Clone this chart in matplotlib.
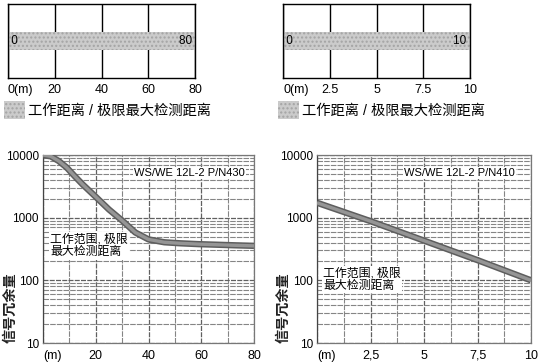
import matplotlib
matplotlib.use('Agg')
import matplotlib.pyplot as plt
from matplotlib.ticker import LogLocator, NullFormatter

plt.rcParams['font.family'] = ['Liberation Sans', 'Noto Sans CJK SC', 'DejaVu Sans']

# datos de los graficos
rango_izq = [0, 80]
ticks_izq = [0, 20, 40, 60, 80]
etiq_barra_izq = ['0(m)', '20', '40', '60', '80']
etiq_curva_izq = ['(m)', '20', '40', '60', '80']
menores_izq = [10, 30, 50, 70]

rango_der = [0, 10]
ticks_der = [0, 2.5, 5, 7.5, 10]
etiq_barra_der = ['0(m)', '2.5', '5', '7.5', '10']
etiq_curva_der = ['(m)', '2,5', '5', '7,5', '10']
menores_der = [1.25, 3.75, 6.25, 8.75]

# curva N430 (distancia m, margen de senal)
x_n430 = [0, 3, 6, 9, 12, 15, 20, 25, 30, 35, 40, 46, 52, 59, 66, 73, 80]
y_n430 = [10000, 9500, 8000, 6300, 4600, 3400, 2150, 1350, 900, 580, 450, 405, 390, 378, 370, 362, 355]

# curva N410
x_n410 = [0, 2.5, 5, 7.5, 10]
y_n410 = [1730, 880, 430, 210, 100]

y_ticks = [10, 100, 1000, 10000]
y_etiq = ['10', '100', '1000', '10000']

leyenda = '工作距离 / 极限最大检测距离'
nota = '工作范围, 极限\n最大检测距离'
modelo_izq = 'WS/WE 12L-2 P/N430'
modelo_der = 'WS/WE 12L-2 P/N410'
ylabel = '信号冗余量'

fig = plt.figure(figsize=(5.41, 3.63), dpi=100)
W, H = 541, 363


def caja(x0, y0, x1, y1):
    return [x0 / W, 1 - y1 / H, (x1 - x0) / W, (y1 - y0) / H]


def barra(ax, rango, ticks, etiquetas, ley_x):
    ax.barh(0.5, rango[1] - rango[0], left=rango[0], height=0.23,
            color='#cbcbcb', hatch='....', edgecolor='#a4a4a4', lw=0,
            label=leyenda)
    ax.set_xlim(rango)
    ax.set_ylim(0, 1)
    ax.set_yticks([])
    ax.set_xticks(ticks)
    ax.set_xticklabels(etiquetas, fontsize=9)
    ax.get_xticklabels()[0].set_ha('left')
    ax.tick_params(axis='x', length=0, pad=4)
    ax.grid(axis='x', color='black', lw=1)
    ax.set_axisbelow(True)
    for s in ax.spines.values():
        s.set_color('black')
        s.set_linewidth(1)
    ax.text(rango[0], 0.5, ' ' + str(rango[0]), va='center', ha='left', fontsize=8.5)
    ax.text(rango[1], 0.5, str(rango[1]) + ' ', va='center', ha='right', fontsize=8.5)
    ax.legend(loc='center left', bbox_to_anchor=(ley_x / W, 1 - 110 / H),
              bbox_transform=fig.transFigure, frameon=False, fontsize=10.3,
              handlelength=1.5, handleheight=1.5, borderpad=0, borderaxespad=0,
              handletextpad=0.15)


def curva(ax, x, y, rango, ticks, etiquetas, menores, modelo, mod_x, nota_xy, ylab_x):
    ax.plot(x, y, color='#5e5e5e', lw=4.6, solid_capstyle='butt', zorder=3)
    ax.plot(x, y, color='#959595', lw=2.4, solid_capstyle='butt', zorder=4)
    ax.set_yscale('log')
    ax.set_ylim(10, 10000)
    ax.set_xlim(rango)
    ax.set_yticks(y_ticks)
    ax.set_yticklabels(y_etiq, fontsize=8.5)
    ax.yaxis.set_minor_locator(LogLocator(base=10, subs=range(2, 10)))
    ax.yaxis.set_minor_formatter(NullFormatter())
    ax.set_xticks(ticks)
    ax.set_xticklabels(etiquetas, fontsize=9)
    ax.get_xticklabels()[0].set_ha('left')
    ax.set_xticks(menores, minor=True)
    ax.tick_params(which='both', length=0)
    ax.tick_params(axis='x', pad=5)
    ax.tick_params(axis='y', pad=3)
    ax.grid(which='major', color='#606060', lw=0.9, ls=(0, (4, 1)))
    ax.grid(which='minor', color='#858585', lw=0.8, ls=(0, (5, 1)))
    for s in ax.spines.values():
        s.set_color('#777777')
        s.set_linewidth(0.9)
    ax.spines['left'].set_color('#444444')
    ax.text(mod_x, 0.904, modelo, transform=ax.transAxes, ha='right', va='center',
            fontsize=8, zorder=5,
            bbox=dict(facecolor='white', edgecolor='none', pad=1))
    ax.text(nota_xy[0], nota_xy[1], nota, transform=ax.transAxes, ha='left',
            va='center', fontsize=8.6, linespacing=1.1, zorder=5,
            bbox=dict(facecolor='white', edgecolor='none', pad=1))
    fig.text(ylab_x / W, 1 - 308 / H, ylabel, rotation=90, ha='center',
             va='center', fontsize=10.2, fontweight='bold', color='#222222')


ax1 = fig.add_axes(caja(8, 4, 195, 78))
barra(ax1, rango_izq, ticks_izq, etiq_barra_izq, 4)
ax2 = fig.add_axes(caja(283, 4, 470, 78))
barra(ax2, rango_der, ticks_der, etiq_barra_der, 278)

ax3 = fig.add_axes(caja(43, 155, 254, 343))
curva(ax3, x_n430, y_n430, rango_izq, ticks_izq, etiq_curva_izq, menores_izq,
      modelo_izq, 0.957, (0.033, 0.516), 11)
ax4 = fig.add_axes(caja(317, 155, 531, 343))
curva(ax4, x_n410, y_n410, rango_der, ticks_der, etiq_curva_der, menores_der,
      modelo_der, 0.925, (0.028, 0.338), 284)

fig.savefig('out.png', dpi=100)
